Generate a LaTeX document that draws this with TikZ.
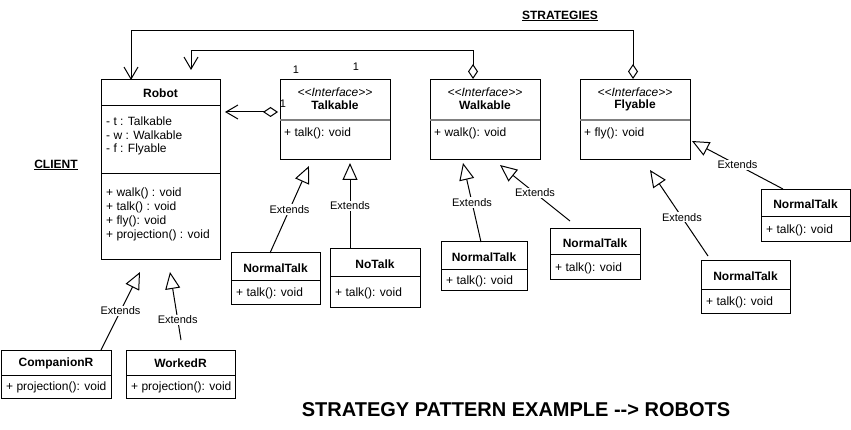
\documentclass[tikz,border=0pt]{standalone}
\usepackage{fontspec}
\setmainfont{Liberation Sans}
\usepackage{xcolor}
\usepackage{tikz}
\usetikzlibrary{calc,arrows.meta}
\definecolor{ink}{HTML}{000000}
\definecolor{rulegray}{HTML}{808080}
\newcommand{\BodyFont}{\fontsize{12}{14}\selectfont}
\newcommand{\EdgeFont}{\fontsize{11}{13}\selectfont}
\newcommand{\TitleFont}{\fontsize{20}{24}\selectfont}

\tikzset{
  classbox/.style={draw=ink,line width=1pt,anchor=north west,inner sep=0pt,outer sep=0pt},
  clsname/.style={font=\BodyFont\bfseries,inner sep=0pt},
  member/.style={font=\BodyFont,anchor=west,inner sep=0pt},
  edgelbl/.style={font=\EdgeFont,fill=white,inner sep=1pt},
  extendline/.style={draw=ink,line width=1pt,-{Triangle[open,length=17pt,width=15pt]}},
  holds/.style={draw=ink,line width=1pt,{Diamond[open,length=15pt,width=10pt]}-{Straight Barb[length=12pt,width=14pt]}},
}

\begin{document}
\begin{tikzpicture}[x=1pt,y=-1pt]
          \useasboundingbox (0,0) rectangle (851,430);
          \node[classbox,minimum width=119,minimum height=180] (robot) at (101,80) {};
          \foreach \d in {26,94}
            \draw[ink,line width=1pt] ($(robot.north west)+(0,\d)$) -- ($(robot.north east)+(0,\d)$);
          \node[clsname] (robot-name) at ($(robot.north)+(0,13)$) {Robot};
          \foreach \i/\t in {0/{- t : Talkable},1/{- w : Walkable},2/{- f : Flyable}}
            \node[member] (robot-a\i) at ($(robot.north west)+(5,41+14*\i)$) {\t};
          \foreach \i/\t in {0/{+ walk() : void},1/{+ talk() : void},2/{+ fly(): void},3/{+ projection() : void}}
            \node[member] (robot-m\i) at ($(robot.north west)+(5,113+14*\i)$) {\t};
          \foreach \n/\x/\t/\m in {talk/280/Talkable/{+ talk(): void},walk/430/Walkable/{+ walk(): void},fly/580/Flyable/{+ fly(): void}}{
            \node[classbox,minimum width=110,minimum height=80] (\n) at (\x,80) {};
            \draw[rulegray,line width=1.5pt] ($(\n.north west)+(0,40)$) -- ($(\n.north east)+(0,40)$);
            \node[font=\BodyFont\itshape,inner sep=0pt] (\n-st) at ($(\n.north)+(0,12)$) {<\kern0pt<Interface>\kern0pt>};
            \node[clsname] (\n-name) at ($(\n.north)+(0,25)$) {\t};
            \node[member] (\n-m) at ($(\n.north west)+(4,53)$) {\m};
          }
          \foreach \n/\x/\y/\w/\h/\d/\t/\m in {talk1/231/253/89/51/28/NormalTalk/{+ talk(): void},notalk/330/249/90/58/28/NoTalk/{+ talk(): void},walk1/441/242/86/49/28/NormalTalk/{+ talk(): void},walk2/550/229/90/51/26/NormalTalk/{+ talk(): void},fly1/701/261/89/52/29/NormalTalk/{+ talk(): void},fly2/761/190/89/52/27/NormalTalk/{+ talk(): void},comp/1/350/110/48/25/CompanionR/{+ projection(): void},work/126/350/109/48/25/WorkedR/{+ projection(): void}}{
            \node[classbox,minimum width=\w,minimum height=\h] (\n) at (\x,\y) {};
            \draw[ink,line width=1pt] ($(\n.north west)+(0,\d)$) -- ($(\n.north east)+(0,\d)$);
            \node[clsname] (\n-name) at ($(\n.north)+(0,{\d/2+1})$) {\t};
            \node[member] (\n-m) at ($(\n.north west)+(5,{\d+(\h-\d)/2+1})$) {\m};
          }
          \coordinate (comp-up) at (140,272);
          \coordinate (work-up) at (170,272);
          \coordinate (work-lo) at (181,340);
          \coordinate (talk1-up) at (309,166);
          \coordinate (notalk-up) at (350,163);
          \coordinate (walk1-up) at (463,163);
          \coordinate (walk2-up) at (500,165);
          \coordinate (fly1-up) at (650,170);
          \coordinate (fly2-up) at (692,141);
          \draw[extendline] ($(comp.north west)+(100,0)$) -- node[edgelbl] (comp-ext) {Extends} (comp-up);
          \draw[extendline] (work-lo) -- node[edgelbl,pos=0.3] (work-ext) {Extends} (work-up);
          \draw[extendline] ($(talk1.north west)+(39,0)$) -- node[edgelbl] (talk1-ext) {Extends} (talk1-up);
          \draw[extendline] ($(notalk.north west)+(20,0)$) -- node[edgelbl] (notalk-ext) {Extends} (notalk-up);
          \draw[extendline] ($(walk1.north west)+(40,0)$) -- node[edgelbl] (walk1-ext) {Extends} (walk1-up);
          \draw[extendline] ($(walk2.north west)+(20,-8)$) -- node[edgelbl] (walk2-ext) {Extends} (walk2-up);
          \draw[extendline] ($(fly1.north west)+(7,-5)$) -- node[edgelbl,pos=0.45] (fly1-ext) {Extends} (fly1-up);
          \draw[extendline] ($(fly2.north west)+(22,-1)$) -- node[edgelbl] (fly2-ext) {Extends} (fly2-up);
          \draw[holds] ($(talk.north west)+(-2,32)$) -- ($(robot.north east)+(5,32)$);
          \draw[holds] ($(walk.north west)+(43,-1)$) |- ($(robot.north west)+(90,-29)$) -- ($(robot.north west)+(90,-10)$);
          \draw[holds] ($(fly.north west)+(53,-1)$) |- ($(robot.north west)+(30,-49)$) -- ($(robot.north west)+(30,0)$);
          \node[font=\EdgeFont,inner sep=0pt] (talk-one) at (283,104) {1};
          \node[font=\EdgeFont,inner sep=0pt] (fly-one) at (296,70) {1};
          \node[font=\EdgeFont,inner sep=0pt] (walk-one) at (356,67) {1};
          \node[font=\BodyFont\bfseries,inner sep=0pt] (strategies) at (560,16) {\underline{STRATEGIES}};
          \node[font=\BodyFont\bfseries,inner sep=0pt] (client) at (56,165) {\underline{CLIENT}};
          \node[font=\TitleFont\bfseries,inner sep=0pt] (caption) at (516,410) {STRATEGY PATTERN EXAMPLE -\kern0pt-> ROBOTS};
        \end{tikzpicture}
\end{document}
